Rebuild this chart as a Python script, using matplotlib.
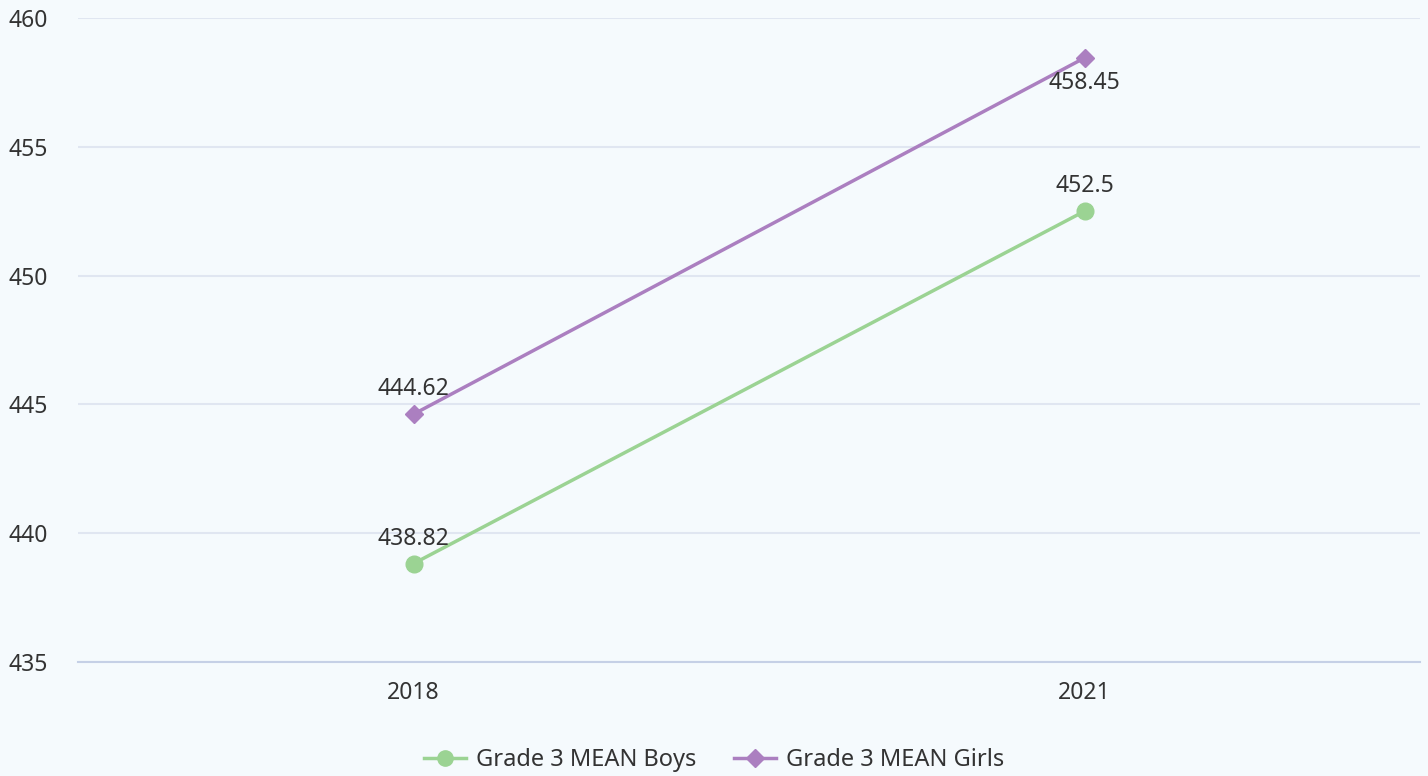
import matplotlib
matplotlib.use("Agg")
import matplotlib.pyplot as plt
from matplotlib.lines import Line2D

categories = ["2018", "2021"]
boys = [438.82, 452.5]
girls = [444.62, 458.45]
boys_labels = ["438.82", "452.5"]
girls_labels = ["444.62", "458.45"]
yticks = [435, 440, 445, 450, 455, 460]

plt.rcParams['font.family'] = ['Noto Sans', 'DejaVu Sans']
BG = "#f5fafd"
GREEN = "#9bd393"
PURPLE = "#ab7fc0"
TXT = "#333333"

fig = plt.figure(figsize=(14.28, 7.76), dpi=100, facecolor=BG)
ax = fig.add_axes([78/1428, 1 - 662/776, 1342/1428, 644/776], facecolor=BG)

x = list(range(len(categories)))
ax.plot(x, boys, color=GREEN, lw=2.5, marker='o', ms=12, zorder=3)
ax.plot(x, girls, color=PURPLE, lw=2.5, marker='D', ms=9, zorder=3)

for xi, v, t in zip(x, boys, boys_labels):
    ax.annotate(t, (xi, v), xytext=(0, 18), textcoords='offset points',
                ha='center', va='center', fontsize=16.5, color=TXT)
offs = [18, -18]
for xi, v, t, o in zip(x, girls, girls_labels, offs):
    ax.annotate(t, (xi, v), xytext=(0, o), textcoords='offset points',
                ha='center', va='center', fontsize=16.5, color=TXT)

ax.set_xlim(-0.5, 1.5)
ax.set_ylim(435, 460)
ax.set_yticks(yticks)
ax.set_yticklabels([str(v) for v in yticks])
ax.set_xticks(x)
ax.set_xticklabels(categories)
ax.tick_params(axis='y', length=0, pad=50, labelsize=16.5, labelcolor=TXT)
for lab in ax.get_yticklabels():
    lab.set_horizontalalignment('left')
ax.tick_params(axis='x', length=0, pad=14, labelsize=16.5, labelcolor=TXT)
ax.grid(axis='y', color="#e0e6f1", lw=1.5)
for s in ['top', 'right', 'left']:
    ax.spines[s].set_visible(False)
ax.spines['bottom'].set_color("#c5d0e6")
ax.spines['bottom'].set_linewidth(1.5)
ax.set_axisbelow(True)

handles = [
    Line2D([0], [0], color=GREEN, lw=2.5, marker='o', ms=11),
    Line2D([0], [0], color=PURPLE, lw=2.5, marker='D', ms=9),
]
fig.legend(handles, ["Grade 3 MEAN Boys", "Grade 3 MEAN Girls"],
           loc='center', bbox_to_anchor=(0.5, 1 - 760/776), ncol=2,
           frameon=False, fontsize=17, labelcolor=TXT, handlelength=1.8,
           handletextpad=0.4, columnspacing=1.6)

fig.savefig("out.png", dpi=100, facecolor=BG)
